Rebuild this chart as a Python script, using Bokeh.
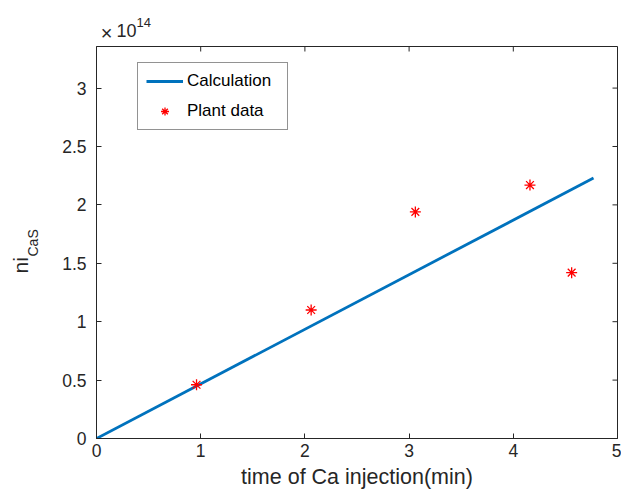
import numpy as np
from bokeh.plotting import figure
from bokeh.models import (Range1d, LinearAxis, FixedTicker, Label, Legend,
                          LegendItem, CustomJSTickFormatter)
from bokeh.embed import file_html
from bokeh.resources import INLINE

# ---- data (ni values in units of 1e14) ----
calc_time = [0.0, 4.77]
calc_ni = [0.0, 2.23]
plant_time = [0.96, 2.06, 3.06, 4.16, 4.56]
plant_ni = [0.46, 1.10, 1.94, 2.17, 1.42]
x_ticks = [0, 1, 2, 3, 4, 5]
y_ticks = [0, 0.5, 1, 1.5, 2, 2.5, 3]

FONT = "Liberation Sans"
AX = "#262626"

X0, X1, Y0, Y1 = 0, 5, 0, 3.356
FW, FH = 521, 392
FL, FT = 96, 46          # frame left / top in page pixels
FB = FT + FH
PX = FW / (X1 - X0)      # pixels per x unit
PY = FH / (Y1 - Y0)      # pixels per y unit
TICK = 5                 # tick length in pixels

def dx(px):
    return X0 + (px - FL) / PX

def dy(py):
    return Y0 + (FB - py) / PY

p = figure(frame_width=FW, frame_height=FH,
           min_border_left=FL, min_border_top=FT, min_border_right=4,
           min_border_bottom=501 - FB,
           x_range=Range1d(X0, X1), y_range=Range1d(Y0, Y1),
           output_backend="svg", toolbar_location=None,
           x_axis_location=None, y_axis_location=None)
p.xgrid.visible = False
p.ygrid.visible = False
p.outline_line_color = AX
p.outline_line_width = 1
p.background_fill_color = "white"
p.border_fill_color = "white"

fmt = CustomJSTickFormatter(code="return String(tick)")

def style_axis(ax):
    ax.axis_line_color = AX
    ax.major_tick_line_color = AX
    ax.major_tick_in = TICK
    ax.major_tick_out = 0
    ax.minor_tick_line_color = None
    ax.major_label_text_font = FONT
    ax.major_label_text_color = AX
    ax.major_label_text_font_size = "17.5px"

xb = LinearAxis(ticker=FixedTicker(ticks=x_ticks), formatter=fmt)
style_axis(xb)
xb.major_label_standoff = 5
xb.axis_label = "time of Ca injection(min)"
xb.axis_label_text_font = FONT
xb.axis_label_text_font_size = "21.5px"
xb.axis_label_text_font_style = "normal"
xb.axis_label_text_color = AX
xb.axis_label_standoff = 5
p.add_layout(xb, "below")

yl = LinearAxis(ticker=FixedTicker(ticks=y_ticks), formatter=fmt)
style_axis(yl)
yl.major_label_standoff = 10
p.add_layout(yl, "left")

# mirrored inward ticks on top and right edges (box on)
nx, ny = len(x_ticks), len(y_ticks)
p.segment(x0=x_ticks, y0=[Y1] * nx, x1=x_ticks, y1=[Y1 - TICK / PY] * nx,
          line_color=AX, line_width=1)
p.segment(x0=[X1] * ny, y0=y_ticks, x1=[X1 - TICK / PX] * ny, y1=y_ticks,
          line_color=AX, line_width=1)

r_line = p.line(calc_time, calc_ni, line_color="#0072BD", line_width=2.8)
r_pts = p.scatter(plant_time, plant_ni, marker="asterisk", size=11,
                  line_color="#FF0000", line_width=1.3)

legend = Legend(items=[LegendItem(label="Calculation", renderers=[r_line]),
                       LegendItem(label="Plant data", renderers=[r_pts])],
                location=(41, 308), orientation="vertical",
                padding=8, spacing=10, margin=0,
                glyph_width=37, glyph_height=20, label_height=20,
                label_width=92, label_standoff=4,
                label_text_font=FONT, label_text_font_size="17px",
                label_text_color="#000000",
                border_line_color=AX, border_line_width=1,
                background_fill_color="white", background_fill_alpha=1.0)
p.add_layout(legend, "center")

# y axis label "ni" with subscript "CaS" (in the left side panel: not clipped)
p.add_layout(Label(x=dx(20), y=dy(273),
                   text="ni", angle=np.pi / 2, text_align="left",
                   text_baseline="alphabetic", text_font=FONT,
                   text_font_size="21px", text_color=AX), "left")
p.add_layout(Label(x=dx(32), y=dy(256),
                   text="CaS", angle=np.pi / 2, text_align="left",
                   text_baseline="alphabetic", text_font=FONT,
                   text_font_size="14px", text_color=AX), "left")

# exponent "×10^14" (in the top side panel)
p.add_layout(Label(x=dx(106), y=dy(32.5),
                   text="\u00d7", text_align="center", text_baseline="middle",
                   text_font=FONT, text_font_size="20px", text_color=AX), "above")
p.add_layout(Label(x=dx(116), y=dy(30),
                   text="10", text_align="left", text_baseline="alphabetic",
                   text_font=FONT, text_font_size="18px", text_color=AX), "above")
p.add_layout(Label(x=dx(136), y=dy(22),
                   text="14", text_align="left", text_baseline="alphabetic",
                   text_font=FONT, text_font_size="13px", text_color=AX), "above")

open("out.html", "w").write(file_html(p, INLINE))
